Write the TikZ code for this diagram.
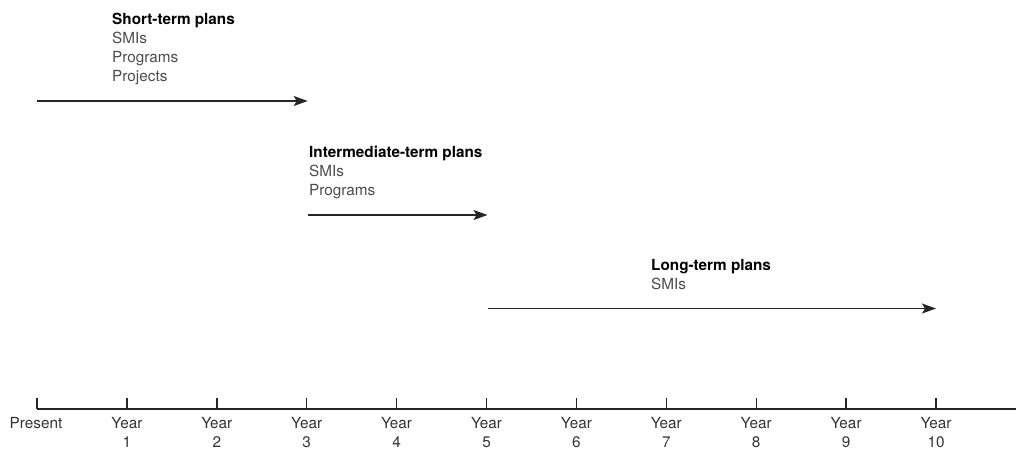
\documentclass[tikz,border=0pt]{standalone}
\usepackage{fontspec}
\setmainfont{TeX Gyre Heros}
\usetikzlibrary{arrows.meta}
\begin{document}
\begin{tikzpicture}[x=1pt,y=-1pt,
  plan/.style={-{Stealth[length=14pt,width=10pt,inset=3pt]}, line width=1.4pt, draw=black!85},
  axisline/.style={line width=1.4pt, draw=black!85},
  planlabel/.style={font=\fontsize{15.3}{19}\selectfont, text=black!70, align=left,
                    anchor=base west, inner sep=0pt},
  ticklabel/.style={font=\fontsize{15.3}{18.5}\selectfont, text=black!80, align=center,
                    anchor=north, inner sep=0pt}
]
\useasboundingbox (0,0) rectangle (1016,451);

% time axis with one tick per year
\coordinate (axisL) at (37,409);
\coordinate (axisR) at (1016,409);
\draw[axisline] (axisL) -- (axisR);
\foreach \i in {0,...,10} {
  \coordinate (t\i) at ({37+89.9*\i},409);
  \coordinate (u\i) at ({37+89.9*\i},398);
  \draw[axisline] (t\i) -- (u\i);
}
\node[ticklabel] (lp) at (36,417.5) {Present};
\foreach \i in {1,...,10} {
  \node[ticklabel] (ly\i) at ({37+89.9*\i},417.5) {Year\\\i};
}

% planning horizons
\coordinate (sA) at (37,101);
\coordinate (sB) at (307.7,101);
\coordinate (iA) at (307.7,215);
\coordinate (iB) at (487.5,215);
\coordinate (lA) at (487.5,308.5);
\coordinate (lB) at (936,308.5);

\draw[plan] (sA) -- (sB);
\draw[plan] (iA) -- (iB);
\draw[plan] (lA) -- (lB);

% text blocks, anchored at the baseline of their last line
\node[planlabel] (short) at (112,81)
  {{\color{black}\bfseries Short-term plans}\\SMIs\\Programs\\Projects};
\node[planlabel] (inter) at (309,195)
  {{\color{black}\bfseries Intermediate-term plans}\\SMIs\\Programs};
\node[planlabel] (long) at (651,289)
  {{\color{black}\bfseries Long-term plans}\\SMIs};
\end{tikzpicture}
\end{document}
